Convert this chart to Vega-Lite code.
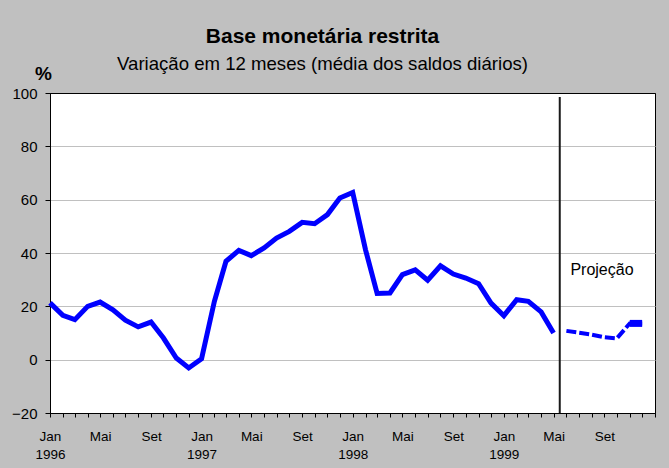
{
  "$schema": "https://vega.github.io/schema/vega-lite/v6.json",
  "width": 605,
  "height": 320,
  "autosize": "none",
  "padding": {"left": 50, "top": 93, "right": 14, "bottom": 55},
  "background": "#c0c0c0",
  "config": {
    "view": {"fill": "white", "stroke": "black", "strokeWidth": 1},
    "font": "Liberation Sans"
  },
  "title": {
    "text": "Base monetária restrita",
    "subtitle": "Variação em 12 meses (média dos saldos diários)",
    "anchor": "middle",
    "frame": "group",
    "dx": -30,
    "offset": -10,
    "font": "Liberation Sans",
    "fontSize": 21,
    "fontWeight": "bold",
    "color": "black",
    "subtitleFont": "Liberation Sans",
    "subtitleFontSize": 18.6,
    "subtitleColor": "black",
    "subtitlePadding": 8
  },
  "datasets": {
    "series": [
      {"date": "1996-01-01", "value": 21.3, "serie": "Observado"},
      {"date": "1996-02-01", "value": 16.6, "serie": "Observado"},
      {"date": "1996-03-01", "value": 15.0, "serie": "Observado"},
      {"date": "1996-04-01", "value": 20.0, "serie": "Observado"},
      {"date": "1996-05-01", "value": 21.6, "serie": "Observado"},
      {"date": "1996-06-01", "value": 18.7, "serie": "Observado"},
      {"date": "1996-07-01", "value": 14.8, "serie": "Observado"},
      {"date": "1996-08-01", "value": 12.3, "serie": "Observado"},
      {"date": "1996-09-01", "value": 14.1, "serie": "Observado"},
      {"date": "1996-10-01", "value": 8.1, "serie": "Observado"},
      {"date": "1996-11-01", "value": 0.6, "serie": "Observado"},
      {"date": "1996-12-01", "value": -3.1, "serie": "Observado"},
      {"date": "1997-01-01", "value": 0.3, "serie": "Observado"},
      {"date": "1997-02-01", "value": 21.9, "serie": "Observado"},
      {"date": "1997-03-01", "value": 36.9, "serie": "Observado"},
      {"date": "1997-04-01", "value": 41.0, "serie": "Observado"},
      {"date": "1997-05-01", "value": 39.0, "serie": "Observado"},
      {"date": "1997-06-01", "value": 41.9, "serie": "Observado"},
      {"date": "1997-07-01", "value": 45.6, "serie": "Observado"},
      {"date": "1997-08-01", "value": 48.1, "serie": "Observado"},
      {"date": "1997-09-01", "value": 51.5, "serie": "Observado"},
      {"date": "1997-10-01", "value": 51.0, "serie": "Observado"},
      {"date": "1997-11-01", "value": 54.4, "serie": "Observado"},
      {"date": "1997-12-01", "value": 60.6, "serie": "Observado"},
      {"date": "1998-01-01", "value": 62.7, "serie": "Observado"},
      {"date": "1998-02-01", "value": 41.2, "serie": "Observado"},
      {"date": "1998-03-01", "value": 24.8, "serie": "Observado"},
      {"date": "1998-04-01", "value": 25.0, "serie": "Observado"},
      {"date": "1998-05-01", "value": 31.9, "serie": "Observado"},
      {"date": "1998-06-01", "value": 33.7, "serie": "Observado"},
      {"date": "1998-07-01", "value": 29.8, "serie": "Observado"},
      {"date": "1998-08-01", "value": 35.2, "serie": "Observado"},
      {"date": "1998-09-01", "value": 32.1, "serie": "Observado"},
      {"date": "1998-10-01", "value": 30.6, "serie": "Observado"},
      {"date": "1998-11-01", "value": 28.5, "serie": "Observado"},
      {"date": "1998-12-01", "value": 21.2, "serie": "Observado"},
      {"date": "1999-01-01", "value": 16.5, "serie": "Observado"},
      {"date": "1999-02-01", "value": 22.5, "serie": "Observado"},
      {"date": "1999-03-01", "value": 21.9, "serie": "Observado"},
      {"date": "1999-04-01", "value": 17.9, "serie": "Observado"},
      {"date": "1999-05-01", "value": 10.0, "serie": "Observado"},
      {"date": "1999-06-01", "value": 10.8, "serie": "Projeção"},
      {"date": "1999-07-01", "value": 10.1, "serie": "Projeção"},
      {"date": "1999-08-01", "value": 9.4, "serie": "Projeção"},
      {"date": "1999-09-01", "value": 8.4, "serie": "Projeção"},
      {"date": "1999-10-01", "value": 8.0, "serie": "Projeção"},
      {"date": "1999-11-01", "value": 13.6, "serie": "Projeção"},
      {"date": "1999-12-01", "value": 13.6, "serie": "Projeção"}
    ]
  },
  "encoding": {
    "x": {
      "field": "date",
      "type": "temporal",
      "scale": {
        "type": "utc",
        "domain": [
          {"year": 1996, "month": 1, "date": 1, "utc": true},
          {"year": 2000, "month": 1, "date": 1, "utc": true}
        ]
      },
      "axis": {
        "title": null,
        "grid": false,
        "tickCount": {"interval": "month", "step": 1},
        "labelExpr": "utcmonth(datum.value) == 0 && utcyear(datum.value) < 2000 ? ['Jan', '' + utcyear(datum.value)] : utcmonth(datum.value) == 4 ? 'Mai' : utcmonth(datum.value) == 8 ? 'Set' : ''",
        "labelOverlap": false,
        "labelFlush": false,
        "labelBound": false,
        "labelFontSize": 13.5,
        "labelColor": "black",
        "labelLineHeight": 18,
        "labelPadding": 12,
        "tickSize": 4,
        "tickColor": "black",
        "domainColor": "black"
      }
    },
    "y": {
      "field": "value",
      "type": "quantitative",
      "scale": {"domain": [-20, 100], "nice": false, "zero": false},
      "axis": {
        "values": [-20, 0, 20, 40, 60, 80, 100],
        "title": "%",
        "titleAngle": 0,
        "titleFontSize": 19,
        "titleFontWeight": "bold",
        "titleColor": "black",
        "titleX": -7,
        "titleY": -14,
        "titleAlign": "center",
        "titleBaseline": "alphabetic",
        "labelFontSize": 15,
        "labelColor": "black",
        "labelPadding": 8,
        "tickSize": 5,
        "tickColor": "black",
        "domainColor": "black",
        "grid": true,
        "gridColor": {"condition": {"test": "datum.value == 100 || datum.value == -20", "value": "black"}, "value": "#c0c0c0"}
      }
    }
  },
  "layer": [
    {
      "data": {"name": "series"},
      "transform": [{"filter": "datum.serie == 'Observado'"}],
      "mark": {"type": "line", "color": "#0000ff", "strokeWidth": 5}
    },
    {
      "data": {"name": "series"},
      "transform": [{"filter": "datum.serie == 'Projeção'"}],
      "mark": {"type": "line", "color": "#0000ff", "strokeWidth": 4, "strokeDash": [10, 3]}
    },
    {
      "data": {"name": "series"},
      "transform": [{"filter": "datum.serie == 'Projeção' && utcmonth(toDate(datum.date)) >= 10"}],
      "mark": {"type": "line", "color": "#0000ff", "strokeWidth": 7}
    },
    {
      "data": {"values": [{"date": "1999-05-16", "value": 98.5, "value2": -20}]},
      "mark": {"type": "rule", "color": "#1a1a1a", "strokeWidth": 2},
      "encoding": {"y2": {"field": "value2"}}
    },
    {
      "data": {"values": [{"date": "1999-08-26", "value": 31.9, "label": "Projeção"}]},
      "mark": {"type": "text", "fontSize": 16, "color": "black", "align": "center", "baseline": "alphabetic"},
      "encoding": {"text": {"field": "label"}}
    }
  ]
}
